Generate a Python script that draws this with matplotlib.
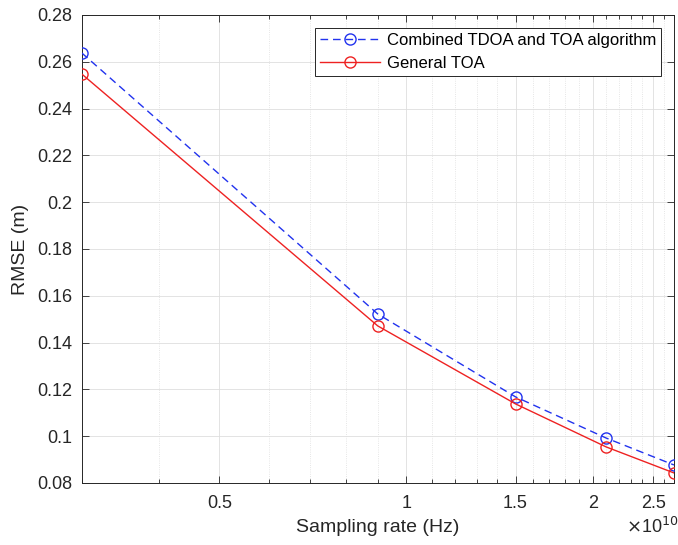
"""
RMSE vs sampling rate, MATLAB-style semilogx figure
"""

import matplotlib
matplotlib.use("Agg")
import matplotlib.pyplot as plt
from matplotlib.ticker import FixedLocator, FuncFormatter, NullFormatter

plt.rcParams["font.family"] = ["Liberation Sans", "DejaVu Sans"]

# Data
sampling_rate = [0.3e10, 0.9e10, 1.5e10, 2.1e10, 2.7e10]
rmse_combined = [0.2638, 0.1522, 0.1168, 0.0992, 0.0877]
rmse_toa = [0.2548, 0.1471, 0.1138, 0.0954, 0.0843]

x_major = [0.5e10, 1.0e10, 1.5e10, 2.0e10, 2.5e10]
x_minor = [v * 1e9 for v in range(3, 28) if v not in (5, 10, 15, 20, 25)]
y_ticks = [0.08, 0.10, 0.12, 0.14, 0.16, 0.18, 0.20, 0.22, 0.24, 0.26, 0.28]

AX_COLOR = "#262626"
GRID_COLOR = "#dedede"

fig = plt.figure(figsize=(6.78, 5.45), dpi=100, facecolor="white")
ax = fig.add_axes([0.1205, 0.1138, 0.8735, 0.8587])

ax.plot(sampling_rate, rmse_combined, linestyle="--", dashes=(5.5, 3.5),
        color="#2233ee", marker="o", markersize=8, markerfacecolor="none",
        linewidth=1, label="Combined TDOA and TOA algorithm", zorder=3)
ax.plot(sampling_rate, rmse_toa, linestyle="-", color="#ee2222",
        marker="o", markersize=8, markerfacecolor="none", linewidth=1,
        label="General TOA", zorder=3)

ax.set_xscale("log")
ax.set_xlim(0.3e10, 2.7e10)
ax.set_ylim(0.08, 0.28)

ax.xaxis.set_major_locator(FixedLocator(x_major))
ax.xaxis.set_minor_locator(FixedLocator(x_minor))
ax.xaxis.set_major_formatter(FuncFormatter(lambda v, p: f"{v / 1e10:g}"))
ax.xaxis.set_minor_formatter(NullFormatter())
ax.yaxis.set_major_locator(FixedLocator(y_ticks))
ax.yaxis.set_major_formatter(FuncFormatter(lambda v, p: f"{v:g}"))

ax.tick_params(which="both", direction="in", top=True, right=True,
               color=AX_COLOR, width=0.6)
ax.tick_params(which="major", length=5, labelsize=13, labelcolor=AX_COLOR)
ax.tick_params(axis="x", which="major", pad=9)
ax.tick_params(axis="y", which="major", pad=7)
ax.tick_params(which="minor", length=3)
for s in ax.spines.values():
    s.set_color(AX_COLOR)
    s.set_linewidth(0.7)

ax.grid(which="major", color=GRID_COLOR, linestyle="-", linewidth=0.6)
ax.grid(which="minor", axis="x", color=GRID_COLOR, linestyle=":", linewidth=0.6)
ax.set_axisbelow(True)

ax.set_xlabel("Sampling rate (Hz)", fontsize=14, color=AX_COLOR, labelpad=5)
ax.set_ylabel("RMSE (m)", fontsize=14, color=AX_COLOR, labelpad=6)

ax.text(1.007, -0.094, r"$\times$10$^{10}$", transform=ax.transAxes,
        ha="right", va="center", fontsize=13, color=AX_COLOR)

leg = ax.legend(loc="upper right", bbox_to_anchor=(0.978, 0.972), fontsize=12,
                fancybox=False, framealpha=1, edgecolor=AX_COLOR,
                handlelength=3.6, borderpad=0.3, labelspacing=0.45,
                handletextpad=0.4, borderaxespad=0)
leg.get_frame().set_linewidth(0.7)

fig.savefig("out.png", dpi=100, facecolor="white")
plt.close(fig)
